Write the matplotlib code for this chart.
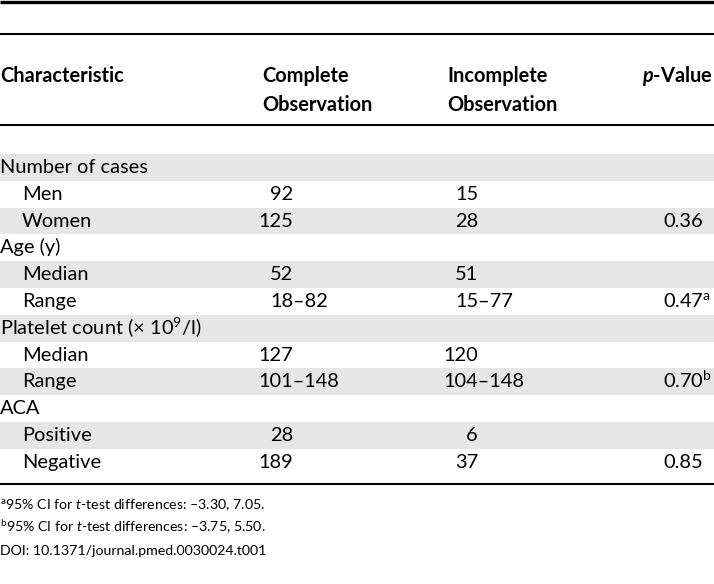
import matplotlib
matplotlib.use("Agg")
import matplotlib.pyplot as plt

plt.rcParams['font.family'] = ['Lato', 'DejaVu Sans']
plt.rcParams['mathtext.fontset'] = 'custom'
plt.rcParams['mathtext.rm'] = 'Lato'
plt.rcParams['mathtext.it'] = 'Lato:italic'
plt.rcParams['mathtext.bf'] = 'Lato:bold'
plt.rcParams['mathtext.bfit'] = 'Lato:bold:italic'

# table contents
headers = ["Characteristic", "Complete\nObservation", "Incomplete\nObservation", r"$\mathbfit{p}$-Value"]
labels = ["Number of cases", "Men", "Women", "Age (y)", "Median", "Range",
          "Platelet count (× 10$^{9}$/l)", "Median", "Range", "ACA", "Positive", "Negative"]
indent = [0, 1, 1, 0, 1, 1, 0, 1, 1, 0, 1, 1]
complete = ["", "92", "125", "", "52", "18–82", "", "127", "101–148", "", "28", "189"]
incomplete = ["", "15", "28", "", "51", "15–77", "", "120", "104–148", "", "6", "37"]
pvalues = ["", "", "0.36", "", "", r"0.47$^{\mathrm{a}}$", "", "", r"0.70$^{\mathrm{b}}$", "", "", "0.85"]
footnotes = [r"$^{\mathrm{a}}$95% CI for $\mathit{t}$-test differences: –3.30, 7.05.",
             r"$^{\mathrm{b}}$95% CI for $\mathit{t}$-test differences: –3.75, 5.50.",
             "DOI: 10.1371/journal.pmed.0030024.t001"]

W, H = 714, 584
fig = plt.figure(figsize=(W / 100, H / 100), dpi=100)
ax = fig.add_axes([0, 0, 1, 1])
ax.set_xlim(0, W)
ax.set_ylim(H, 0)
ax.axis('off')
renderer = fig.canvas.get_renderer()

fs = 14.4
col_left = [0, 262, 447, 663]
num_anchor = [None, 293, 478]
row_top = 154
row_h = 26.8

# rules
ax.hlines(1.5, 0, W, color='black', lw=2.4)
ax.hlines(34, 0, W, color='black', lw=1.5)
ax.hlines(125, 0, W, color='black', lw=1.5)
bottom_rule = row_top + row_h * len(labels) + 8
ax.hlines(bottom_rule, 0, W, color='black', lw=1.5)

# header (last one pushed against the right edge so it fits)
for k, (x, h) in enumerate(zip(col_left, headers)):
    lines = h.split("\n")
    ha = 'left'
    if k == len(headers) - 1:
        x, ha = W - 1, 'right'
    ax.text(x, 82, lines[0], fontsize=fs, fontweight='bold', va='baseline', ha=ha)
    if len(lines) > 1:
        ax.text(x, 111, lines[1], fontsize=fs, fontweight='bold', va='baseline', ha=ha)


def text_width(s):
    t = ax.text(0, 0, s, fontsize=fs)
    w = t.get_window_extent(renderer).width
    t.remove()
    return w


def put_number(val, anchor, y):
    # numbers aligned on the last digit of the first figure
    if not val:
        return
    first = val.split("–")[0]
    ax.text(anchor - text_width(first), y, val, fontsize=fs, va='baseline', ha='left')


for i, lab in enumerate(labels):
    top = row_top + row_h * i
    if i % 2 == 0:
        ax.axhspan(top, top + row_h, color='#e6e6e6', lw=0)
    y = top + 19
    ax.text(22 * indent[i], y, lab, fontsize=fs, va='baseline', ha='left')
    put_number(complete[i], num_anchor[1], y)
    put_number(incomplete[i], num_anchor[2], y)
    if pvalues[i]:
        ax.text(col_left[3], y, pvalues[i], fontsize=fs, va='baseline', ha='left')

for j, fn in enumerate(footnotes):
    ax.text(0, bottom_rule + 26 + 22.5 * j, fn, fontsize=10.2, va='baseline', ha='left')

fig.savefig("out.png", dpi=100)
